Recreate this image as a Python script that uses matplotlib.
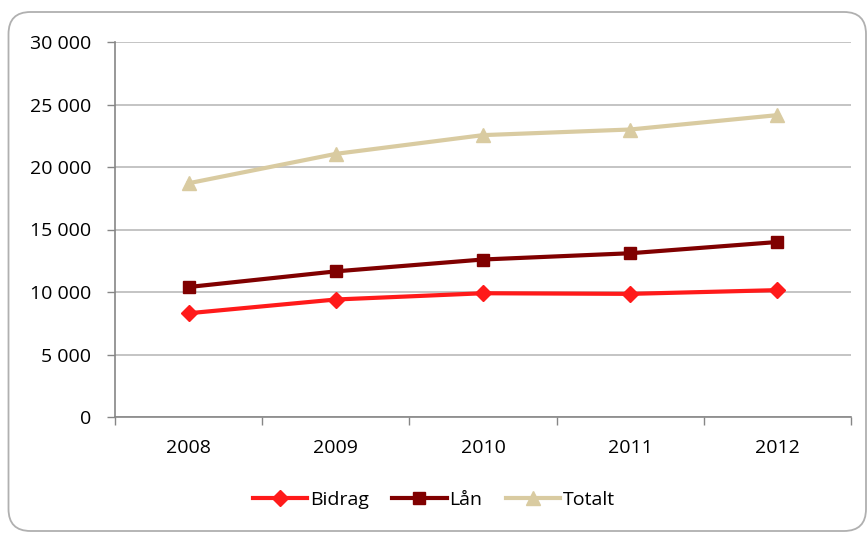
import matplotlib.pyplot as plt
import numpy as np
from matplotlib.patches import FancyBboxPatch
from matplotlib.ticker import FuncFormatter

years = ["2008", "2009", "2010", "2011", "2012"]
bidrag = [8300, 9400, 9900, 9850, 10150]
lan = [10400, 11650, 12600, 13100, 14000]
totalt = [18700, 21050, 22550, 23000, 24150]

plt.rcParams["font.family"] = ["Open Sans", "DejaVu Sans"]

fig = plt.figure(figsize=(8.68, 5.33), dpi=100)
ax = fig.add_axes([115/868, 1-417/533, (851-115)/868, (417-42)/533])

# rounded outer frame (inch coordinates)
frame = FancyBboxPatch((0.085, 0.02), 8.575, 5.19,
                       boxstyle="round,pad=0,rounding_size=0.22",
                       transform=fig.dpi_scale_trans, fill=False,
                       edgecolor="#B0B0B0", linewidth=1.3)
fig.patches.append(frame)

x = np.arange(len(years))
ax.plot(x, bidrag, color="#FF1A1A", lw=3, marker="D", ms=8.5, label="Bidrag")
ax.plot(x, lan, color="#800000", lw=3, marker="s", ms=8.5, label="Lån")
ax.plot(x, totalt, color="#D9CBA1", lw=3, marker="^", ms=10, label="Totalt")

ax.set_xlim(-0.5, 4.5)
ax.set_ylim(0, 30000)
ax.set_yticks(np.arange(0, 30001, 5000))
ax.yaxis.set_major_formatter(FuncFormatter(lambda v, p: f"{int(v):,}".replace(",", " ")))
ax.set_xticks(x)
ax.set_xticklabels(years)
ax.set_xticks(np.arange(-0.5, 4.6, 1), minor=True)
ax.tick_params(axis="x", which="major", length=0, pad=16, labelsize=14)
ax.tick_params(axis="x", which="minor", length=6, color="#868686", width=1)
ax.tick_params(axis="y", length=6, color="#868686", width=1, labelsize=14, pad=11)

ax.grid(axis="y", color="#BFBFBF", lw=1.3)
ax.set_axisbelow(True)
for s in ["top", "right"]:
    ax.spines[s].set_visible(False)
for s in ["left", "bottom"]:
    ax.spines[s].set_color("#868686")
    ax.spines[s].set_linewidth(1.2)

fig.legend(loc="center", bbox_to_anchor=(0.5, 1-500/533), ncol=3, frameon=False,
           fontsize=14, handlelength=2.8, handletextpad=0.15, columnspacing=1.2)

fig.savefig("out.png", dpi=100)
